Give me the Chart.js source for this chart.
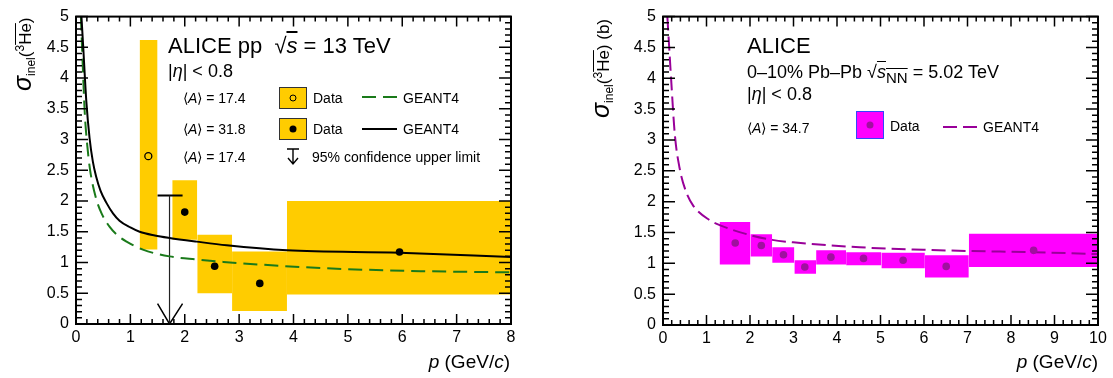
<!DOCTYPE html>
<html lang="en">
<head>
<meta charset="UTF-8">
<title>ALICE anti-3He inelastic cross section</title>
<script src="https://cdn.jsdelivr.net/npm/chart.js"></script>
<style>
  * { margin: 0; padding: 0; box-sizing: border-box; }
  body { background: #fff; font-family: 'Liberation Sans', Arial, Helvetica, sans-serif; color: #000; }
  .wrap { position: relative; width: 1113px; height: 378px; overflow: hidden; }
  canvas { position: absolute; top: 0; }
  #ppChart { left: 0; }
  #pbChart { left: 580px; }
  .t { position: absolute; white-space: nowrap; line-height: 1; }
  .big { font-size: 22px; }
  .mid { font-size: 18px; }
  .sm { font-size: 14px; }
  .ovl { text-decoration: overline; }
  sub, sup { line-height: 0; }
  .ytitle { position: absolute; white-space: nowrap; line-height: 1; font-size: 17px;
            transform-origin: left top; transform: rotate(-90deg); }
  .ytitle .sig { font-size: 25px; font-style: italic; }
  .ytitle sub, .ytitle sup { font-size: 12px; }
  .xtitle { position: absolute; white-space: nowrap; line-height: 1; font-size: 19px; text-align: right; }
  .lbox { position: absolute; width: 28px; height: 22px; border: 1.5px solid #333; }
  .dot { position: absolute; left: 50%; top: 50%; border-radius: 50%; transform: translate(-50%, -50%); }
  .sample { position: absolute; }
</style>
</head>
<body>
<div class="wrap">
  <canvas id="ppChart" width="540" height="378"></canvas>
  <canvas id="pbChart" width="533" height="378"></canvas>

  <!-- left panel: pp -->
  <div class="ytitle" style="left:10px; top:91px;"><span class="sig">σ</span><sub>inel</sub>(<sup>3</sup><span class="ovl">He</span>)</div>
  <div class="xtitle" style="right:603px; top:352px;"><i>p</i> (GeV/<i>c</i>)</div>
  <div class="t big" style="left:168px; top:35px;">ALICE pp &nbsp;√<i class="ovl">s</i> = 13 TeV</div>
  <div class="t mid" style="left:168px; top:62px;">|<i>η</i>| &lt; 0.8</div>
  <div class="t sm" style="left:183px; top:91px;">⟨<i>A</i>⟩ = 17.4</div>
  <div class="t sm" style="left:183px; top:122px;">⟨<i>A</i>⟩ = 31.8</div>
  <div class="t sm" style="left:183px; top:150px;">⟨<i>A</i>⟩ = 17.4</div>
  <div class="lbox" style="left:279px; top:87px; background:#ffcc00;"><div class="dot" style="width:7px; height:7px; border:1.5px solid #000;"></div></div>
  <div class="lbox" style="left:279px; top:118px; background:#ffcc00;"><div class="dot" style="width:7px; height:7px; background:#000;"></div></div>
  <div class="t sm" style="left:313px; top:91px;">Data</div>
  <div class="t sm" style="left:313px; top:122px;">Data</div>
  <svg class="sample" style="left:362px; top:92px;" width="36" height="10">
    <line x1="0" y1="5" x2="35" y2="5" stroke="#1a7a1a" stroke-width="2" stroke-dasharray="14 7"/>
  </svg>
  <svg class="sample" style="left:362px; top:124px;" width="36" height="10">
    <line x1="0" y1="5" x2="35" y2="5" stroke="#000" stroke-width="2"/>
  </svg>
  <div class="t sm" style="left:403px; top:91px;">GEANT4</div>
  <div class="t sm" style="left:403px; top:122px;">GEANT4</div>
  <svg class="sample" style="left:285px; top:147px;" width="16" height="19">
    <path d="M2 2 H14 M8 2 V17 M3 11 L8 17 L13 11" stroke="#000" stroke-width="1.4" fill="none"/>
  </svg>
  <div class="t sm" style="left:312px; top:150px;">95% confidence upper limit</div>

  <!-- right panel: Pb-Pb -->
  <div class="ytitle" style="left:588px; top:118px;"><span class="sig">σ</span><sub>inel</sub>(<sup>3</sup><span class="ovl">He</span>) (b)</div>
  <div class="xtitle" style="right:15px; top:352px;"><i>p</i> (GeV/<i>c</i>)</div>
  <div class="t big" style="left:747px; top:35px;">ALICE</div>
  <div class="t mid" style="left:747px; top:63px;">0–10% Pb–Pb √<span class="ovl"><i>s</i><sub>NN</sub></span> = 5.02 TeV</div>
  <div class="t mid" style="left:747px; top:85px;">|<i>η</i>| &lt; 0.8</div>
  <div class="t sm" style="left:747px; top:121px;">⟨<i>A</i>⟩ = 34.7</div>
  <div class="lbox" style="left:856px; top:111px; height:28px; background:#ff00ff; border-color:#3344ff;"><div class="dot" style="width:7px; height:7px; background:#a0109f;"></div></div>
  <div class="t sm" style="left:890px; top:119px;">Data</div>
  <svg class="sample" style="left:943px; top:122px;" width="36" height="10">
    <line x1="0" y1="5" x2="34" y2="5" stroke="#990099" stroke-width="2" stroke-dasharray="14 6"/>
  </svg>
  <div class="t sm" style="left:983px; top:120px;">GEANT4</div>
</div>

<script>
    // ===== pp, sqrt(s) = 13 TeV =====
    const ppBoxX0 = [1.17, 1.77, 2.23, 2.87, 3.88];
    const ppBoxX1 = [1.50, 2.23, 2.87, 3.88, 8.00];
    const ppBoxLo = [1.21, 1.37, 0.50, 0.21, 0.48];
    const ppBoxHi = [4.62, 2.34, 1.45, 1.18, 2.00];

    const ppOpenP = [1.33];            // <A> = 17.4
    const ppOpenSigma = [2.73];
    const ppDataP = [2.00, 2.55, 3.38, 5.95];   // <A> = 31.8
    const ppDataSigma = [1.82, 0.94, 0.66, 1.17];

    // 95% CL upper limit: bar start, centre, bar end / limit value
    const ppLimitP = [1.50, 1.72, 1.96];
    const ppLimitSigma = [2.09];

    const g4LightP = [0.09, 0.12, 0.16, 0.21, 0.26, 0.37, 0.47, 0.62, 0.78, 0.93, 1.23, 1.72, 2.22, 2.71, 4.50, 6.34, 8.00];
    const g4LightSigma = [5.00, 4.30, 3.45, 2.88, 2.50, 2.04, 1.80, 1.58, 1.43, 1.34, 1.21, 1.10, 1.05, 1.01, 0.91, 0.86, 0.84];
    const g4HeavyP = [0.10, 0.13, 0.19, 0.25, 0.31, 0.37, 0.45, 0.56, 0.68, 0.80, 1.00, 1.17, 1.45, 1.72, 2.22, 2.77, 3.88, 5.95, 8.00];
    const g4HeavySigma = [5.00, 4.55, 3.62, 3.02, 2.64, 2.40, 2.17, 1.97, 1.80, 1.68, 1.57, 1.50, 1.44, 1.40, 1.34, 1.28, 1.20, 1.16, 1.09];

    // ===== Pb-Pb 0-10%, sqrt(sNN) = 5.02 TeV =====
    const pbEdges = [1.30, 2.01, 2.51, 3.02, 3.52, 4.21, 5.02, 6.02, 7.03, 10.0];
    const pbBoxLo = [0.98, 1.11, 1.01, 0.83, 0.98, 0.97, 0.92, 0.77, 0.94];
    const pbBoxHi = [1.67, 1.47, 1.26, 1.05, 1.21, 1.18, 1.17, 1.13, 1.48];
    const pbDataP = [1.66, 2.26, 2.77, 3.26, 3.86, 4.61, 5.52, 6.51, 8.52];
    const pbDataSigma = [1.33, 1.29, 1.14, 0.94, 1.10, 1.08, 1.05, 0.95, 1.21];

    const g4PbP = [0.10, 0.19, 0.27, 0.38, 0.52, 0.69, 1.07, 1.30, 1.99, 2.51, 2.99, 4.52, 5.98, 7.01, 8.50, 10.0];
    const g4PbSigma = [5.00, 3.95, 3.10, 2.55, 2.18, 1.94, 1.70, 1.62, 1.46, 1.38, 1.34, 1.26, 1.22, 1.20, 1.18, 1.15];

    const FONT = "'Liberation Sans', Arial, sans-serif";
    const pts = (xs, ys) => xs.map((x, i) => ({x: x, y: ys[i]}));

    // ROOT-like frame: box with inward ticks on all four sides
    function makeFrame(xMinor, yMinor) {
        return {
            id: 'rootFrame',
            afterDraw(chart) {
                const ctx = chart.ctx;
                const a = chart.chartArea;
                const xs = chart.scales.x, ys = chart.scales.y;
                ctx.save();
                ctx.strokeStyle = '#000';
                ctx.lineWidth = 1.5;
                ctx.beginPath();
                let n = Math.round((xs.max - xs.min) / xMinor);
                for (let i = 0; i <= n; i++) {
                    const px = xs.getPixelForValue(xs.min + i * xMinor);
                    const len = i % 5 === 0 ? 10 : 5;
                    ctx.moveTo(px, a.bottom); ctx.lineTo(px, a.bottom - len);
                    ctx.moveTo(px, a.top); ctx.lineTo(px, a.top + len);
                }
                n = Math.round((ys.max - ys.min) / yMinor);
                for (let i = 0; i <= n; i++) {
                    const py = ys.getPixelForValue(ys.min + i * yMinor);
                    const len = i % 5 === 0 ? 12 : 6;
                    ctx.moveTo(a.left, py); ctx.lineTo(a.left + len, py);
                    ctx.moveTo(a.right, py); ctx.lineTo(a.right - len, py);
                }
                ctx.stroke();
                ctx.lineWidth = 2;
                ctx.strokeRect(a.left, a.top, a.right - a.left, a.bottom - a.top);
                ctx.restore();
            }
        };
    }

    function boxSets(x0, x1, lo, hi, color) {
        return x0.map((a, i) => ({
            data: [{x: a, y: hi[i]}, {x: x1[i], y: hi[i]}],
            borderWidth: 0,
            borderColor: 'rgba(0,0,0,0)',
            backgroundColor: color,
            pointRadius: 0,
            fill: {value: lo[i]},
            order: 5
        }));
    }

    function makeScales(xMax, xHeight, yWidth) {
        return {
            x: {
                type: 'linear', min: 0, max: xMax,
                afterFit: s => { s.height = xHeight; },
                grid: {display: false, drawTicks: false},
                border: {display: false},
                ticks: {stepSize: 1, padding: 4, color: '#000', font: {family: FONT, size: 16}}
            },
            y: {
                type: 'linear', min: 0, max: 5,
                afterFit: s => { s.width = yWidth; },
                grid: {display: false, drawTicks: false},
                border: {display: false},
                ticks: {stepSize: 0.5, padding: 7, color: '#000', font: {family: FONT, size: 16},
                        callback: v => String(Math.round(v * 10) / 10)}
            }
        };
    }

    // ---- left chart
    const limitHead = 0.33;
    new Chart(document.getElementById('ppChart'), {
        type: 'line',
        data: {
            datasets: [
                ...boxSets(ppBoxX0, ppBoxX1, ppBoxLo, ppBoxHi, '#ffcc00'),
                {   // upper limit: arrow shaft
                    data: [{x: ppLimitP[1], y: ppLimitSigma[0]}, {x: ppLimitP[1], y: 0}],
                    borderColor: '#222', borderWidth: 1.2, pointRadius: 0, order: 4
                },
                {   // upper limit: bar
                    data: [{x: ppLimitP[0], y: ppLimitSigma[0]}, {x: ppLimitP[2], y: ppLimitSigma[0]}],
                    borderColor: '#000', borderWidth: 2, pointRadius: 0, order: 4
                },
                {   // upper limit: arrow head
                    data: [{x: ppLimitP[0], y: limitHead}, {x: ppLimitP[1], y: 0}, {x: ppLimitP[2], y: limitHead}],
                    borderColor: '#000', borderWidth: 1.5, pointRadius: 0, order: 4
                },
                {
                    data: pts(g4LightP, g4LightSigma),
                    borderColor: '#1a7a1a', borderWidth: 2, borderDash: [14, 7],
                    pointRadius: 0, cubicInterpolationMode: 'monotone', order: 3
                },
                {
                    data: pts(g4HeavyP, g4HeavySigma),
                    borderColor: '#000', borderWidth: 2,
                    pointRadius: 0, cubicInterpolationMode: 'monotone', order: 2
                },
                {
                    data: pts(ppOpenP, ppOpenSigma), showLine: false,
                    pointRadius: 3.5, pointBorderWidth: 1.3,
                    pointBackgroundColor: 'rgba(0,0,0,0)', pointBorderColor: '#000', order: 1
                },
                {
                    data: pts(ppDataP, ppDataSigma), showLine: false,
                    pointRadius: 3.8, pointBorderWidth: 0,
                    pointBackgroundColor: '#000', pointBorderColor: '#000', order: 1
                }
            ]
        },
        options: {
            responsive: false,
            animation: false,
            layout: {padding: {top: 12, right: 29, left: 0, bottom: 0}},
            plugins: {legend: {display: false}, tooltip: {enabled: false}},
            scales: makeScales(8, 54, 76)
        },
        plugins: [makeFrame(0.2, 0.1)]
    });

    // ---- right chart
    new Chart(document.getElementById('pbChart'), {
        type: 'line',
        data: {
            datasets: [
                ...boxSets(pbEdges.slice(0, -1), pbEdges.slice(1), pbBoxLo, pbBoxHi, '#ff00ff'),
                {
                    data: pts(g4PbP, g4PbSigma),
                    borderColor: '#990099', borderWidth: 2, borderDash: [14, 6],
                    pointRadius: 0, cubicInterpolationMode: 'monotone', order: 2
                },
                {
                    data: pts(pbDataP, pbDataSigma), showLine: false,
                    pointRadius: 3.8, pointBorderWidth: 0,
                    pointBackgroundColor: '#a0109f', pointBorderColor: '#a0109f', order: 1
                }
            ]
        },
        options: {
            responsive: false,
            animation: false,
            layout: {padding: {top: 12, right: 15, left: 0, bottom: 0}},
            plugins: {legend: {display: false}, tooltip: {enabled: false}},
            scales: makeScales(10, 53, 83)
        },
        plugins: [makeFrame(0.2, 0.1)]
    });
</script>
</body>
</html>
